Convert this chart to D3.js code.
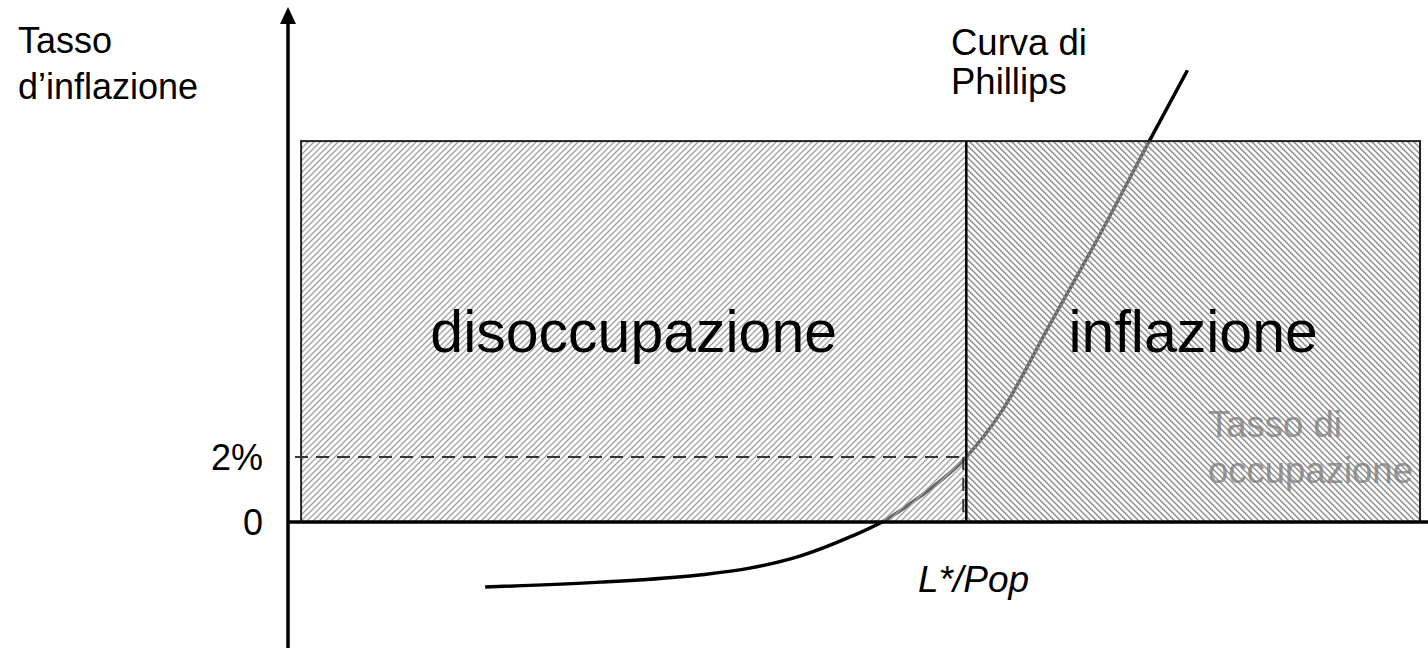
<!DOCTYPE html>
<html><head><meta charset="utf-8">
<script src="https://cdn.jsdelivr.net/npm/d3@7"></script>
<style>html,body{margin:0;padding:0;background:#fff;}svg{display:block;font-family:"Liberation Sans",Arial,sans-serif;}</style>
</head><body>
<script>
// ---- data ----
const curveX = [17.3, 27.4, 36.1, 40.5, 44.9, 49.3, 52.1, 55.4, 59.5, 62.5, 66.8, 71.2, 75.6, 78.9];
const curveY = [-2.0, -1.85, -1.63, -1.42, -1.05, -0.46, 0, 0.77, 2, 3.35, 6.06, 8.83, 11.75, 13.9];
const regionNames = ["disoccupazione", "inflazione"];
const regionEdges = [1.15, 59.5, 99.3];
const regionTop = 11.72;
const naturalRate = 59.5;
const targetInflation = 2;
const tickValues = [0, 2];
const tickLabels = ["0", "2%"];
const yTitle = ["Tasso", "d\u2019inflazione"];
const curveTitle = ["Curva di", "Phillips"];
const xTitle = ["Tasso di", "occupazione"];
const naturalLabel = "L*/Pop";

const W = 1428, H = 648;
const x = d3.scaleLinear().domain([0, 100]).range([288, 1428]);
const y = d3.scaleLinear().domain([-4, 16]).range([652, 2]);

const svg = d3.select("body").append("svg").attr("width", W).attr("height", H);
const defs = svg.append("defs");
function hatch(id, d, col, w) {
  const p = defs.append("pattern").attr("id", id).attr("patternUnits", "userSpaceOnUse")
    .attr("width", 6).attr("height", 6);
  p.append("rect").attr("width", 6).attr("height", 6).attr("fill", "#fff").attr("fill-opacity", 0.4);
  p.append("path").attr("d", d).attr("stroke", col).attr("stroke-width", w).attr("fill", "none");
}
hatch("hatchL", "M-1,1 l2,-2 M0,6 l6,-6 M5,7 l2,-2", "#a0a0a0", 1.3);
hatch("hatchR", "M-1,5 l2,2 M0,0 l6,6 M5,-1 l2,2", "#8a8a8a", 1.4);

// Phillips curve (drawn beneath the hatched regions)
const line = d3.line().x(d => x(d[0])).y(d => y(d[1])).curve(d3.curveMonotoneX);
svg.append("path").datum(d3.zip(curveX, curveY)).attr("d", line)
  .attr("fill", "none").attr("stroke", "#000").attr("stroke-width", 3.5);

// gray x title (under hatch)
const xt = svg.append("text").attr("font-size", 36.5).attr("fill", "#777");
xTitle.forEach((t, i) => xt.append("tspan").attr("x", 1208).attr("y", 437 + i * 46).text(t));

// regions
const regions = regionNames.map((n, i) => ({ name: n, x0: regionEdges[i], x1: regionEdges[i + 1] }));
svg.selectAll("rect.region").data(regions).join("rect").attr("class", "region")
  .attr("x", d => x(d.x0)).attr("y", y(regionTop))
  .attr("width", d => x(d.x1) - x(d.x0)).attr("height", y(0) - y(regionTop))
  .attr("fill", (d, i) => i === 0 ? "url(#hatchL)" : "url(#hatchR)")
  .attr("stroke", "#222").attr("stroke-width", 2);

svg.append("g").attr("opacity", 0.35).node().appendChild(xt.node().cloneNode(true));

svg.selectAll("text.region").data(regions).join("text").attr("class", "region")
  .attr("x", d => (x(d.x0) + x(d.x1)) / 2).attr("y", 352)
  .attr("text-anchor", "middle").attr("font-size", 59).attr("fill", "#000").text(d => d.name);

// divider at natural rate
svg.append("line").attr("x1", x(naturalRate)).attr("x2", x(naturalRate))
  .attr("y1", y(regionTop)).attr("y2", y(0)).attr("stroke", "#000").attr("stroke-width", 2);

// dashed target inflation guides
svg.append("line").attr("x1", x(0) + 7).attr("x2", x(naturalRate) - 3)
  .attr("y1", y(targetInflation)).attr("y2", y(targetInflation))
  .attr("stroke", "#333").attr("stroke-width", 2).attr("stroke-dasharray", "13,8");
svg.append("line").attr("x1", x(naturalRate) - 3).attr("x2", x(naturalRate) - 3)
  .attr("y1", y(targetInflation)).attr("y2", y(0))
  .attr("stroke", "#333").attr("stroke-width", 2).attr("stroke-dasharray", "13,8");

// axes
svg.append("line").attr("x1", x(0)).attr("x2", W).attr("y1", y(0)).attr("y2", y(0))
  .attr("stroke", "#000").attr("stroke-width", 3.5);
svg.append("line").attr("x1", x(0)).attr("x2", x(0)).attr("y1", 22).attr("y2", H)
  .attr("stroke", "#000").attr("stroke-width", 3.5);
svg.append("path").attr("d", `M${x(0)},7 L${x(0) + 8},24 L${x(0) - 8},24 Z`).attr("fill", "#000");

// tick labels
svg.selectAll("text.tick").data(tickValues).join("text").attr("class", "tick")
  .attr("x", 263).attr("y", d => y(d) + 13).attr("text-anchor", "end")
  .attr("font-size", 36).text((d, i) => tickLabels[i]);

// titles
const yt = svg.append("text").attr("font-size", 36);
yTitle.forEach((t, i) => yt.append("tspan").attr("x", 18).attr("y", 53 + i * 46).text(t));
const ct = svg.append("text").attr("font-size", 36.5);
curveTitle.forEach((t, i) => ct.append("tspan").attr("x", 951).attr("y", 55 + i * 39).text(t));
svg.append("text").attr("x", 918).attr("y", 592).attr("font-size", 37)
  .attr("font-style", "italic").text(naturalLabel);
</script>
</body></html>
